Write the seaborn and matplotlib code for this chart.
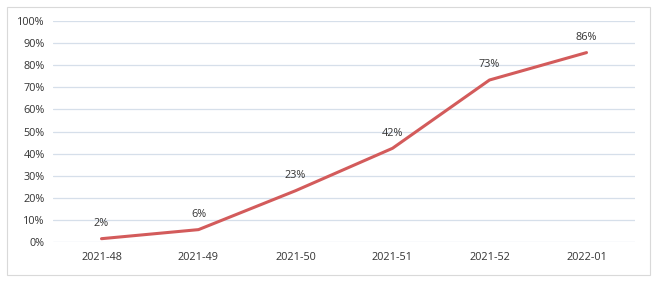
import matplotlib
matplotlib.use("Agg")
import matplotlib.pyplot as plt
import seaborn as sns
import pandas as pd
from matplotlib.patches import Rectangle
from matplotlib.ticker import PercentFormatter

weeks = ["2021-48", "2021-49", "2021-50", "2021-51", "2021-52", "2022-01"]
shares = [0.015, 0.056, 0.232, 0.424, 0.733, 0.857]
labels = ["2%", "6%", "23%", "42%", "73%", "86%"]

sns.set_theme(style="white")
plt.rcParams['font.family'] = ['Open Sans', 'DejaVu Sans']
text_color = "#333333"

W, H = 656, 281
fig = plt.figure(figsize=(W / 100, H / 100), dpi=100)
fig.patches.append(Rectangle((7 / W, 6 / H), 643 / W, 268 / H, transform=fig.transFigure,
                             fill=False, edgecolor="#d9d9d9", linewidth=0.8))
ax = fig.add_axes([53 / W, (H - 242) / H, (635 - 53) / W, (242 - 21) / H])

df = pd.DataFrame({"week": weeks, "share": shares})
sns.lineplot(data=df, x="week", y="share", ax=ax, color="#d35b5b", linewidth=2.2)

for i, (v, t) in enumerate(zip(shares, labels)):
    ax.annotate(t, (i, v), xytext=(0, 7), textcoords="offset points",
                ha="center", va="bottom", fontsize=7.8, color=text_color)

ax.set_xlim(-0.5, len(weeks) - 0.5)
ax.set_ylim(0, 1)
ax.set_yticks([i / 10 for i in range(11)])
ax.yaxis.set_major_formatter(PercentFormatter(1.0, decimals=0))
ax.grid(axis="y", color="#d6dfea", linewidth=0.9)
ax.grid(axis="x", visible=False)
for s in ax.spines.values():
    s.set_visible(False)
ax.tick_params(axis="both", length=0, labelsize=7.8, labelcolor=text_color)
ax.tick_params(axis="x", pad=7)
ax.tick_params(axis="y", pad=6)
ax.set_xlabel("")
ax.set_ylabel("")

fig.savefig("out.png", dpi=100)
